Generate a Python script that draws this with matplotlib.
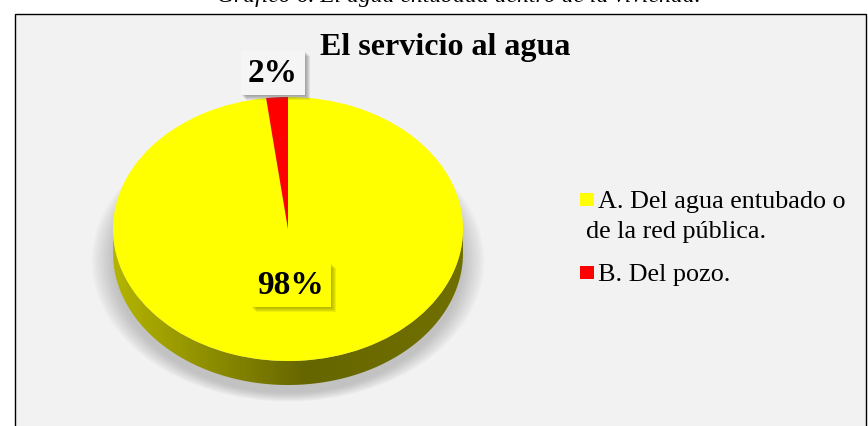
import matplotlib.pyplot as plt
import numpy as np
from matplotlib.patches import Rectangle, Ellipse, Polygon
from matplotlib.colors import LinearSegmentedColormap
from matplotlib import transforms

# datos
categorias = ["A. Del agua entubado o\nde la red pública.", "B. Del pozo."]
porcentajes = [98, 2]
colores = ["#ffff00", "#ff0000"]
titulo = "El servicio al agua"
pie_titulo = "Gráfico 6. El agua entubada dentro de la vivienda."

W, H = 868, 427
fig = plt.figure(figsize=(W / 100, H / 100), dpi=100)
fig.patch.set_facecolor("white")
serif = "Liberation Serif"


def fx(x):
    return x / W


def fy(y):
    return 1 - y / H


# caption cut by the top border
fig.text(fx(459), fy(2), pie_titulo, ha="center", va="baseline",
         family=serif, style="italic", fontsize=17)

# chart frame
fig.patches.append(Rectangle((fx(15), fy(440)), fx(866) - fx(15), fy(15) - fy(440),
                             transform=fig.transFigure, facecolor="#f2f2f2",
                             edgecolor="black", lw=1, zorder=-5))

fig.text(fx(445), fy(47), titulo, ha="center", va="center",
         family=serif, weight="bold", fontsize=23)

# pie axes (pixel geometry of the ellipse)
cx, cy, rx, ry = 288, 230, 175, 132
depth = 24 / ry
ax0, ay0, ax1, ay1 = 60, 60, 520, 430
ax = fig.add_axes([fx(ax0), fy(ay1), fx(ax1) - fx(ax0), fy(ay0) - fy(ay1)])

# soft shadow
for k in range(12):
    e = Ellipse((0, -depth - 0.06), 2 * (1.0 + 0.011 * k), 2 * (1.0 + 0.006 * k),
                facecolor="#7f7f7f", edgecolor="none", alpha=0.04, zorder=0.2)
    ax.add_patch(e)

# side of the disc
t = np.linspace(np.pi, 2 * np.pi, 300)
pts = np.vstack([np.c_[np.cos(t), np.sin(t)],
                 np.c_[np.cos(t[::-1]), np.sin(t[::-1]) - depth]])
lado = Polygon(pts, closed=True, facecolor="none", edgecolor="none")
ax.add_patch(lado)
cmap = LinearSegmentedColormap.from_list(
    "lado", [(0, "#b4b400"), (0.3, "#8a8a00"), (0.55, "#666600"), (1, "#707000")])
im = ax.imshow(np.linspace(0, 1, 256)[None, :], extent=[-1, 1, -1 - depth, 0.05],
               cmap=cmap, aspect="auto", zorder=0.5)
im.set_clip_path(lado)

ax.pie(porcentajes, colors=colores, startangle=90, counterclock=False,
       wedgeprops=dict(linewidth=0))
ax.set_aspect("auto")
ax.set_xlim((ax0 - cx) / rx, (ax1 - cx) / rx)
ax.set_ylim(-(ay1 - cy) / ry, (cy - ay0) / ry)
ax.axis("off")

# data labels with a soft shadow
etiquetas = [(291, 286, porcentajes[0], "#ffff00", "#6e6e00"),
             (273, 74, porcentajes[1], "#f5f5f5", "#555555")]
for x, y, v, fc, sc in etiquetas:
    for d in range(1, 6):
        sh = transforms.offset_copy(fig.transFigure, fig=fig, x=d, y=-d, units="dots")
        fig.text(fx(x), fy(y), f"{v}%", transform=sh, ha="center", va="center",
                 family=serif, weight="bold", fontsize=24, color="none", zorder=3,
                 bbox=dict(boxstyle="square,pad=0.2", fc=sc, ec="none", alpha=0.12))
    fig.text(fx(x), fy(y), f"{v}%", ha="center", va="center", zorder=4,
             family=serif, weight="bold", fontsize=24, color="black",
             bbox=dict(boxstyle="square,pad=0.2", fc=fc, ec="none"))

# legend
base = [208, 281]
for cat, col, b in zip(categorias, colores, base):
    fig.patches.append(Rectangle((fx(580), fy(b - 1)), fx(594) - fx(580), fy(b - 14) - fy(b - 1),
                                 transform=fig.transFigure, facecolor=col,
                                 edgecolor="none", zorder=2))
    for i, linea in enumerate(cat.split("\n")):
        fig.text(fx(598) if i == 0 else fx(586), fy(b + 30 * i), linea,
                 ha="left", va="baseline", family=serif, fontsize=18.8)

fig.savefig("out.png", dpi=100)
